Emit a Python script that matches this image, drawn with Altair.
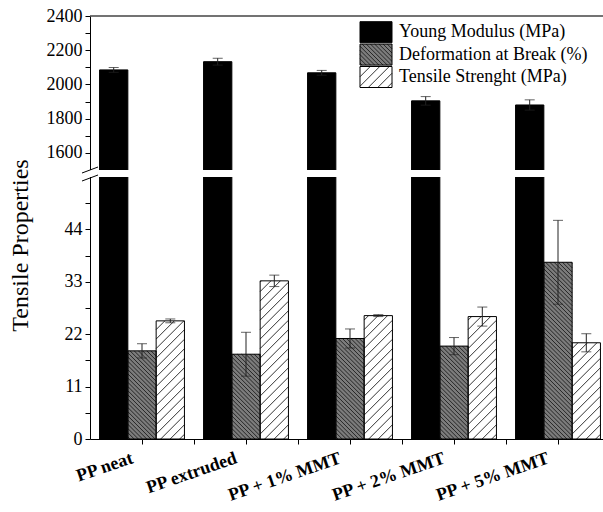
import altair as alt
import pandas as pd

# ---------------- data ----------------
categories = ["PP neat", "PP extruded", "PP + 1% MMT", "PP + 2% MMT", "PP + 5% MMT"]
series = ["Young Modulus (MPa)", "Deformation at Break (%)", "Tensile Strenght (MPa)"]
young_modulus = [2085, 2133, 2068, 1904, 1880]
young_modulus_err = [14, 20, 14, 25, 30]
deformation = [18.5, 17.8, 21.1, 19.5, 37.1]
deformation_err = [1.5, 4.6, 2.0, 1.8, 8.8]
tensile = [24.8, 33.2, 25.9, 25.7, 20.2]
tensile_err = [0.4, 1.2, 0.2, 2.0, 1.9]
lower_ticks = [0, 5.5, 11, 16.5, 22, 27.5, 33, 38.5, 44, 49.5]
upper_ticks = [1600, 1700, 1800, 1900, 2000, 2100, 2200, 2300, 2400]

# ---------------- layout ----------------
W, H = 513, 423
LOW_MAX, LOW_PX = 55, 262
UP_MIN, UP_MAX, UP_PX = 1500, 2400, 154
GAP_PX = H - LOW_PX - UP_PX
STEP_PX = 104.0
BAR_PX = 28.3
FONT = "Liberation Serif"
fills = ["#000000", "#7c7c7c", "#ffffff"]
hatch_spec = [None, (4.2, False, "#262626"), (9.5, True, "#333333")]
LEG_X, LEG_Y, SW, SH, PITCH = 270, 5.7, 32, 21, 22.4


def disp(v):
    """broken-axis display coordinate"""
    if v <= LOW_MAX:
        return v * LOW_PX / LOW_MAX
    return LOW_PX + GAP_PX + (v - UP_MIN) * UP_PX / (UP_MAX - UP_MIN)


x_dom = [-0.5, -0.5 + W / STEP_PX]
bw = BAR_PX / STEP_PX

rows = []
for si, (name, vals, errs) in enumerate(zip(series, [young_modulus, deformation, tensile],
                                            [young_modulus_err, deformation_err, tensile_err])):
    for ci, cat in enumerate(categories):
        xc = ci + (si - 1) * bw
        rows.append(dict(series=name, si=si, cat=cat, x0=xc - bw / 2, x1=xc + bw / 2, xc=xc,
                         base=0.0, top=disp(vals[ci]),
                         lo=disp(vals[ci] - errs[ci]), hi=disp(vals[ci] + errs[ci])))
bars = pd.DataFrame(rows)


def hatch(w, h, spacing, forward):
    """segments inside a w x h box (local coords, v upward)"""
    segs = []
    if forward:  # "/"
        k = -w + spacing / 2
        while k < h:
            u0, u1 = max(0, -k), min(w, h - k)
            if u1 > u0:
                segs.append((u0, u0 + k, u1, u1 + k))
            k += spacing
    else:  # "\"
        k = spacing / 2
        while k < w + h:
            u0, u1 = max(0, k - h), min(w, k)
            if u1 > u0:
                segs.append((u0, k - u0, u1, k - u1))
            k += spacing
    return segs


hrows = []
for _, r in bars.iterrows():
    spec = hatch_spec[r.si]
    if spec is None:
        continue
    for u0, v0, u1, v1 in hatch((r.x1 - r.x0) * STEP_PX, r.top, spec[0], spec[1]):
        hrows.append(dict(kind=r.series, hx0=r.x0 + u0 / STEP_PX, hy0=v0,
                          hx1=r.x0 + u1 / STEP_PX, hy1=v1))
hatch_df = pd.DataFrame(hrows)

# manual legend (pixel layout)
leg = pd.DataFrame([dict(series=s, lx0=LEG_X, lx1=LEG_X + SW, ly0=LEG_Y + i * PITCH,
                         ly1=LEG_Y + i * PITCH + SH, tx=LEG_X + SW + 7,
                         ty=LEG_Y + i * PITCH + SH / 2) for i, s in enumerate(series)])
lrows = []
for i, s in enumerate(series):
    spec = hatch_spec[i]
    if spec is None:
        continue
    for u0, v0, u1, v1 in hatch(SW, SH, spec[0], spec[1]):
        ybot = LEG_Y + i * PITCH + SH
        lrows.append(dict(kind=s, px0=LEG_X + u0, py0=ybot - v0, px1=LEG_X + u1, py1=ybot - v1))
leg_hatch = pd.DataFrame(lrows)

xs = alt.Scale(domain=x_dom, nice=False, zero=False)
ys = alt.Scale(domain=[0, H], nice=False, zero=False)
fill_scale = alt.Scale(domain=series, range=fills)
hatch_scale = alt.Scale(domain=series[1:], range=[hatch_spec[1][2], hatch_spec[2][2]])

y_ticks = [disp(v) for v in lower_ticks + upper_ticks]
y_label_expr = (
    f"datum.value < {LOW_PX + 1} ? "
    f"(round(datum.value*{LOW_MAX}/{LOW_PX}*10)/10 % 11 == 0 ? round(datum.value*{LOW_MAX}/{LOW_PX}) : '') : "
    f"(round({UP_MIN} + (datum.value-{LOW_PX + GAP_PX})*{UP_MAX - UP_MIN}/{UP_PX}) % 200 == 0 ? "
    f"round({UP_MIN} + (datum.value-{LOW_PX + GAP_PX})*{UP_MAX - UP_MIN}/{UP_PX}) : '')"
)
cat_js = "[" + ",".join("'" + c + "'" for c in categories) + "]"
x_label_expr = f"datum.value % 1 == 0 ? {cat_js}[datum.value] : ''"
x_ticks = [i * 0.5 for i in range(0, 2 * len(categories) - 1)]

x_axis = alt.Axis(values=x_ticks, labelExpr=x_label_expr, labelAngle=-19, labelAlign="right",
                  labelBaseline="top", labelFont=FONT, labelFontSize=18, labelFontWeight="bold",
                  labelColor="black", labelPadding=5, labelOffset=-13, tickSize=5, tickColor="black",
                  domainColor="black", grid=False, labelOverlap=False, labelFlush=False,
                  labelBound=False)
y_axis = alt.Axis(values=y_ticks, labelExpr=y_label_expr, labelFont=FONT, labelFontSize=18,
                  labelColor="black", tickSize=5, tickColor="black", domainColor="black",
                  grid=False, labelPadding=3, titleFont=FONT,
                  titleFontSize=24, titleFontWeight="normal", titleColor="black",
                  titlePadding=14, titleY=229, labelOverlap=False, labelFlush=False)
YT = "Tensile Properties"


def X(f):
    return alt.X(f, scale=xs, axis=x_axis, title=None)


def Y(f):
    return alt.Y(f, scale=ys, axis=y_axis, title=YT)


bar_layer = alt.Chart(bars).mark_rect(stroke=None).encode(
    x=X("x0:Q"), x2="x1:Q", y=Y("base:Q"), y2="top:Q",
    fill=alt.Fill("series:N", scale=fill_scale, legend=None),
)

hatch_layer = alt.Chart(hatch_df).mark_rule(strokeWidth=1).encode(
    x=X("hx0:Q"), x2="hx1:Q", y=Y("hy0:Q"), y2="hy1:Q",
    color=alt.Color("kind:N", scale=hatch_scale, legend=None),
)

outline_layer = alt.Chart(bars).mark_rect(fill=None, stroke="black", strokeWidth=1).encode(
    x=X("x0:Q"), x2="x1:Q", y=Y("base:Q"), y2="top:Q",
)

one = pd.DataFrame({"k": [0]})
gap_layer = alt.Chart(one).mark_rect(fill="white").encode(
    x=alt.value(-4), x2=alt.value(W),
    y=alt.value(H - LOW_PX - GAP_PX), y2=alt.value(H - LOW_PX),
)
slash1 = alt.Chart(one).mark_rule(color="black", strokeWidth=1).encode(
    x=alt.value(-8), x2=alt.value(8),
    y=alt.value(H - LOW_PX - GAP_PX + 3), y2=alt.value(H - LOW_PX - GAP_PX - 3),
)
slash2 = alt.Chart(one).mark_rule(color="black", strokeWidth=1).encode(
    x=alt.value(-8), x2=alt.value(8),
    y=alt.value(H - LOW_PX + 4), y2=alt.value(H - LOW_PX - 2),
)
top_border = alt.Chart(one).mark_rule(color="#444444", strokeWidth=1.5).encode(
    x=alt.value(0), x2=alt.value(W), y=alt.value(0),
)

err_rule = alt.Chart(bars).mark_rule(color="#222222", strokeWidth=1).encode(
    x=X("xc:Q"), y=Y("lo:Q"), y2="hi:Q",
)
cap_lo = alt.Chart(bars).mark_tick(color="#222222", thickness=1, size=10, orient="horizontal").encode(
    x=X("xc:Q"), y=Y("lo:Q"),
)
cap_hi = alt.Chart(bars).mark_tick(color="#222222", thickness=1, size=10, orient="horizontal").encode(
    x=X("xc:Q"), y=Y("hi:Q"),
)

leg_rect = alt.Chart(leg).mark_rect(stroke=None).encode(
    x=alt.X("lx0:Q", scale=None), x2="lx1:Q", y=alt.Y("ly0:Q", scale=None), y2="ly1:Q",
    fill=alt.Fill("series:N", scale=fill_scale, legend=None),
)
leg_hatch_layer = alt.Chart(leg_hatch).mark_rule(strokeWidth=1).encode(
    x=alt.X("px0:Q", scale=None), x2="px1:Q", y=alt.Y("py0:Q", scale=None), y2="py1:Q",
    color=alt.Color("kind:N", scale=hatch_scale, legend=None),
)
leg_outline = alt.Chart(leg).mark_rect(fill=None, stroke="black", strokeWidth=1).encode(
    x=alt.X("lx0:Q", scale=None), x2="lx1:Q", y=alt.Y("ly0:Q", scale=None), y2="ly1:Q",
)
leg_text = alt.Chart(leg).mark_text(align="left", baseline="middle", font=FONT, fontSize=18,
                                    color="black").encode(
    x=alt.X("tx:Q", scale=None), y=alt.Y("ty:Q", scale=None), text="series:N",
)

chart = alt.layer(
    bar_layer, hatch_layer, outline_layer, gap_layer, slash1, slash2, top_border,
    err_rule, cap_lo, cap_hi, leg_rect, leg_hatch_layer, leg_outline, leg_text
).properties(
    width=W, height=H,
    autosize=alt.AutoSizeParams(type="none"),
    padding={"left": 90, "top": 16, "right": 0, "bottom": 73},
    background="white",
).configure_view(stroke=None)

chart.save("out.html", embed_options={"renderer": "svg", "actions": False})
